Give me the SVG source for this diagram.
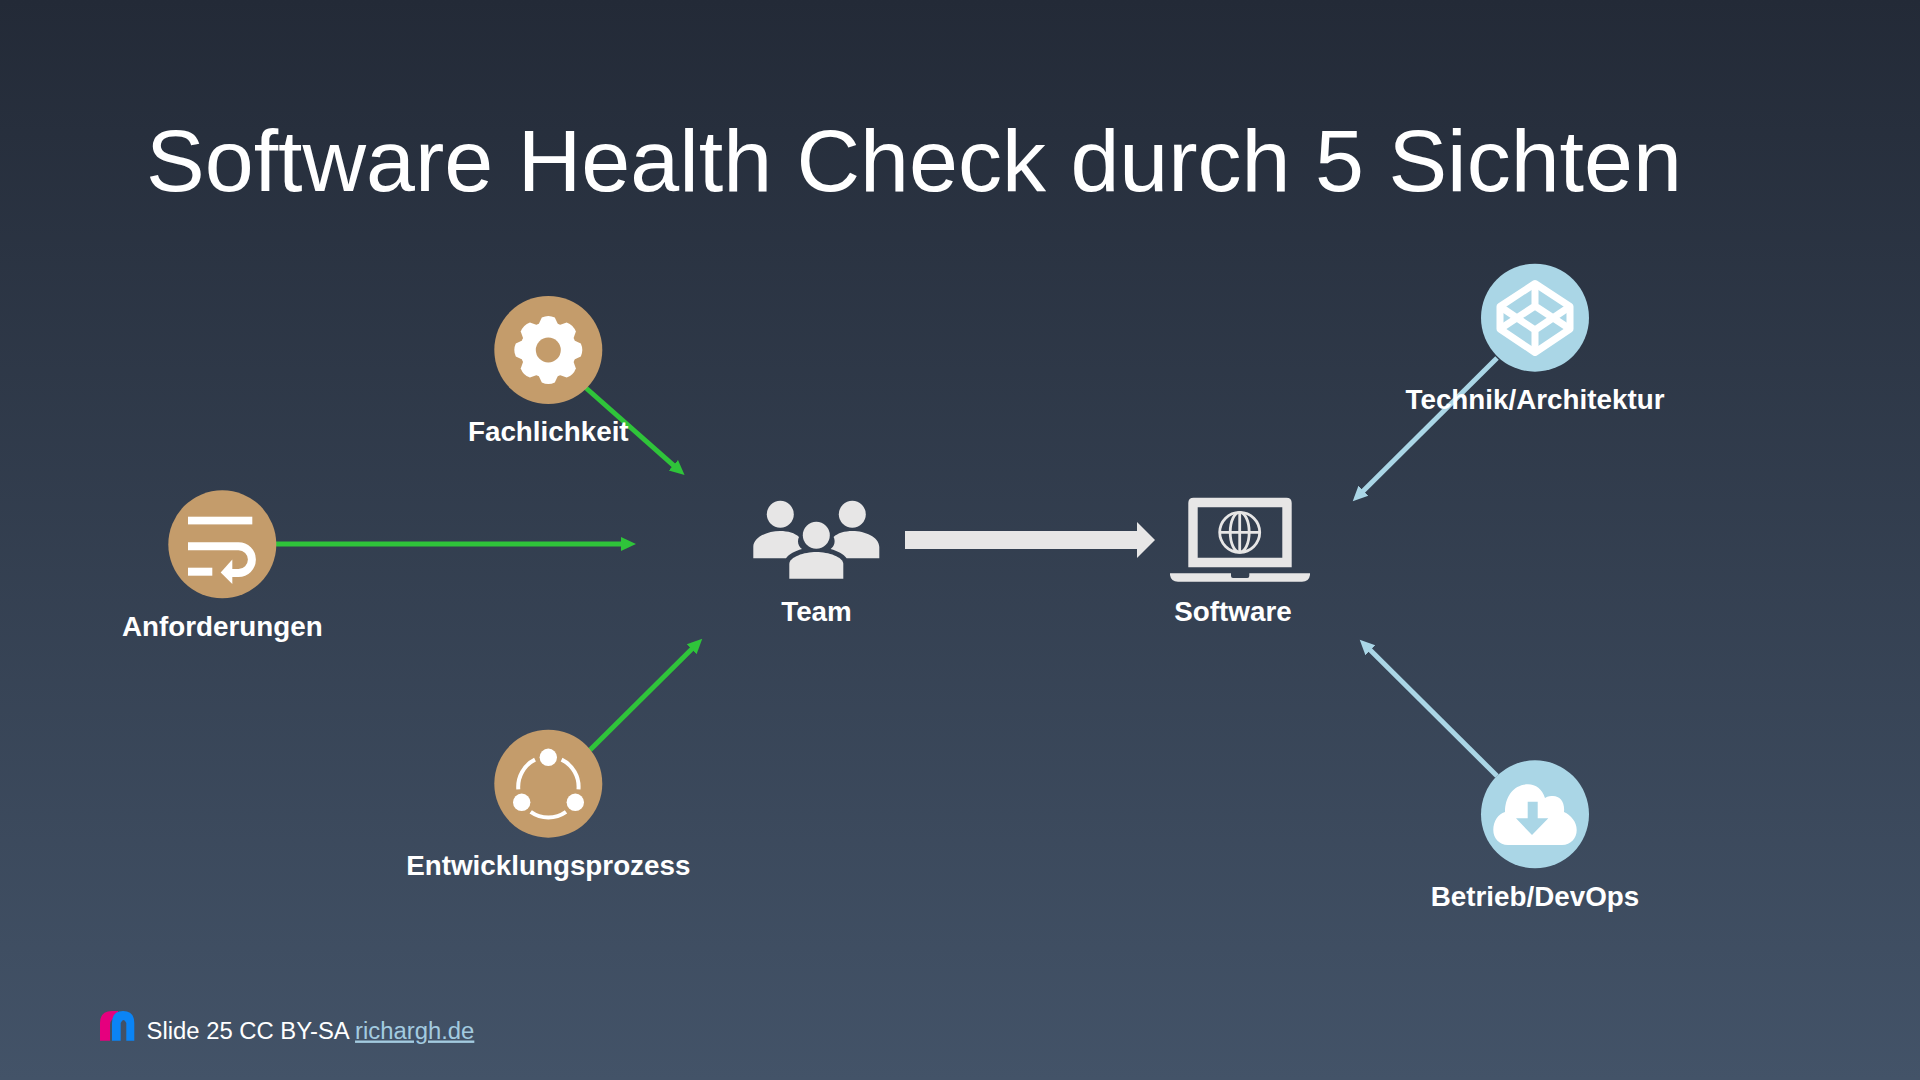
<svg xmlns="http://www.w3.org/2000/svg" width="1920" height="1080" viewBox="0 0 1920 1080">
<defs>
<linearGradient id="bg" x1="0" y1="0" x2="0" y2="1"><stop offset="0" stop-color="#232a37"/><stop offset="1" stop-color="#435368"/></linearGradient>
<marker id="ag" markerUnits="userSpaceOnUse" markerWidth="17" markerHeight="16" viewBox="0 0 17 16" refX="7" refY="8" orient="auto"><path d="M0 1 L15 8 L0 15 Z" fill="#2fc43a"/></marker>
<marker id="ab" markerUnits="userSpaceOnUse" markerWidth="17" markerHeight="16" viewBox="0 0 17 16" refX="7" refY="8" orient="auto"><path d="M0 1 L15 8 L0 15 Z" fill="#aad6e6"/></marker>
<path id="tooth" d="M-10 -25 L-6.5 -32.5 Q0 -35.5 6.5 -32.5 L10 -25 Z"/>
</defs>
<style>
text{font-family:"Liberation Sans",Arial,sans-serif;fill:#fff}
.l{font-size:27.8px;font-weight:700;text-anchor:middle}
.g{stroke:#2fc43a;stroke-width:5;fill:none}
.b{stroke:#aad6e6;stroke-width:5;fill:none}
.tan{fill:#c49c6b}
.sky{fill:#aad6e6}
.w{fill:#fff}
.wl{stroke:#fff;fill:none}
.ic{fill:#e7e6e6}
</style>
<rect width="1920" height="1080" fill="url(#bg)"/>
<text x="146" y="191" font-size="88">Software Health Check durch 5 Sichten</text>
<g id="connectors">
<line class="g" x1="586" y1="388" x2="678.6" y2="469.8" marker-end="url(#ag)"/>
<line class="g" x1="276" y1="544" x2="628" y2="544" marker-end="url(#ag)"/>
<line class="g" x1="590" y1="750" x2="696.6" y2="644.3" marker-end="url(#ag)"/>
<line class="b" x1="1497" y1="358" x2="1358.4" y2="495.7" marker-end="url(#ab)"/>
<line class="b" x1="1497" y1="776" x2="1365.4" y2="645.3" marker-end="url(#ab)"/>
<path class="ic" d="M905 531 H1137 V522 L1155 540 L1137 558 V549 H905 Z"/>
</g>
<g id="fachlichkeit">
<circle class="tan" cx="548.3" cy="350" r="54"/>
<g class="w" transform="translate(548.3 350)">
<circle r="28"/>
<use href="#tooth"/>
<use href="#tooth" transform="rotate(45)"/>
<use href="#tooth" transform="rotate(90)"/>
<use href="#tooth" transform="rotate(135)"/>
<use href="#tooth" transform="rotate(180)"/>
<use href="#tooth" transform="rotate(225)"/>
<use href="#tooth" transform="rotate(270)"/>
<use href="#tooth" transform="rotate(315)"/>
</g>
<circle class="tan" cx="548.3" cy="350" r="12.5"/>
<text class="l" x="548.3" y="441">Fachlichkeit</text>
</g>
<g id="anforderungen">
<circle class="tan" cx="222.3" cy="544.3" r="54"/>
<rect class="w" x="188" y="516.7" width="64.3" height="7.7"/>
<rect class="w" x="188" y="567.7" width="24.3" height="8"/>
<path class="wl" stroke-width="8" d="M188 546.2 H238.5 A13.4 13.4 0 0 1 238.5 573 H228"/>
<path class="w" d="M220.7 572.5 L232.3 559.5 V584 Z"/>
<text class="l" x="222.3" y="636">Anforderungen</text>
</g>
<g id="entwicklungsprozess">
<circle class="tan" cx="548.3" cy="783.7" r="54"/>
<circle class="w" cx="548.3" cy="757.3" r="8.7"/>
<circle class="w" cx="521.7" cy="802.3" r="8.7"/>
<circle class="w" cx="575.3" cy="802.3" r="8.7"/>
<g class="wl" stroke-width="4">
<path d="M535 759.6 A30.5 30.5 0 0 0 518.3 789.3"/>
<path d="M561.6 759.6 A30.5 30.5 0 0 1 578.5 789.3"/>
<path d="M530.7 811.9 A30.5 30.5 0 0 0 566 811.9"/>
</g>
<text class="l" x="548.3" y="875">Entwicklungsprozess</text>
</g>
<g id="team">
<circle class="ic" cx="780.3" cy="514.3" r="13.5"/>
<circle class="ic" cx="852.3" cy="514.3" r="13.5"/>
<circle class="ic" cx="816.3" cy="535.3" r="13.5"/>
<path class="ic" d="M753.3 558.3 V547 C753.3 537 768 531 780 531 C788 531 795 533 799 537 C797 541 798 546 802 549 C795 551 789 554 786 558.3 Z"/>
<path class="ic" d="M879.3 558.3 V547 C879.3 537 864.6 531 852.6 531 C844.6 531 837.6 533 833.6 537 C835.6 541 834.6 546 830.6 549 C837.6 551 843.6 554 846.6 558.3 Z"/>
<path class="ic" d="M789.3 578.7 V564 C789.3 557 804 552 816.3 552 C828.6 552 843.3 557 843.3 564 V578.7 Z"/>
<text class="l" x="816.5" y="621">Team</text>
</g>
<g id="software">
<path class="ic" fill-rule="evenodd" d="M1188.3 567.3 V503 Q1188.3 497.7 1193.6 497.7 H1286.4 Q1291.7 497.7 1291.7 503 V567.3 Z M1197.7 507.3 V557.7 H1282.3 V507.3 Z"/>
<path class="ic" d="M1170 573.3 H1231 V576 Q1231 578 1233 578 H1247.3 Q1249.3 578 1249.3 576 V573.3 H1310 V575 Q1309 581.7 1302 581.7 H1178 Q1171 581.7 1170 575 Z"/>
<g fill="none" stroke="#e7e6e6" stroke-width="2.8">
<circle cx="1239.7" cy="532.3" r="20"/>
<ellipse cx="1239.7" cy="532.3" rx="9.5" ry="20"/>
<path d="M1239.7 512.3 V552.3 M1219.7 532.3 H1259.7"/>
</g>
<text class="l" x="1233" y="620.5">Software</text>
</g>
<g id="technik">
<circle class="sky" cx="1535" cy="317.7" r="54"/>
<g class="wl" stroke-width="7" stroke-linejoin="round">
<path d="M1535 283.5 L1570 306.5 V329 L1535 352.5 L1500 329 V306.5 Z"/>
<path d="M1500 329 L1535 306 L1570 329 M1500 306.5 L1535 330 L1570 306.5 M1535 283.5 V306 M1535 330 V352.5"/>
</g>
<text class="l" x="1535" y="409">Technik/Architektur</text>
</g>
<g id="betrieb">
<circle class="sky" cx="1535" cy="814.3" r="54"/>
<path class="w" d="M1508 845 C1499 845 1493.3 838 1493.3 830 C1493.3 821 1498 814 1505 812 C1505 796 1514 784.3 1528 784.3 C1536 784.3 1542 789 1545 798 C1548 796 1551 796 1553 796 C1560 796 1565 802 1564 812 C1571 815 1576.7 822 1576.7 830 C1576.7 838 1571 845 1562 845 Z"/>
<path class="sky" d="M1527.7 801.7 H1537.7 V818.3 H1548.3 L1532 835 L1516 818.3 H1527.7 Z"/>
<text class="l" x="1535" y="906">Betrieb/DevOps</text>
</g>
<g id="footer">
<path fill="#e6007e" d="M100 1040.7 V1023 Q100 1011 112 1011 H118 V1017 Q110 1018 110 1025 V1040.7 Z"/>
<path fill="#0a84f5" d="M112 1040.7 V1023 Q112 1011 123 1011 Q134.3 1011 134.3 1023 V1040.7 H126.3 V1023 Q123.5 1017 120.7 1023 V1040.7 Z"/>
<text x="146.5" y="1038.5" font-size="23.85">Slide 25 CC BY-SA <tspan style="fill:#a3cbe0" text-decoration="underline">richargh.de</tspan></text>
</g>
</svg>
